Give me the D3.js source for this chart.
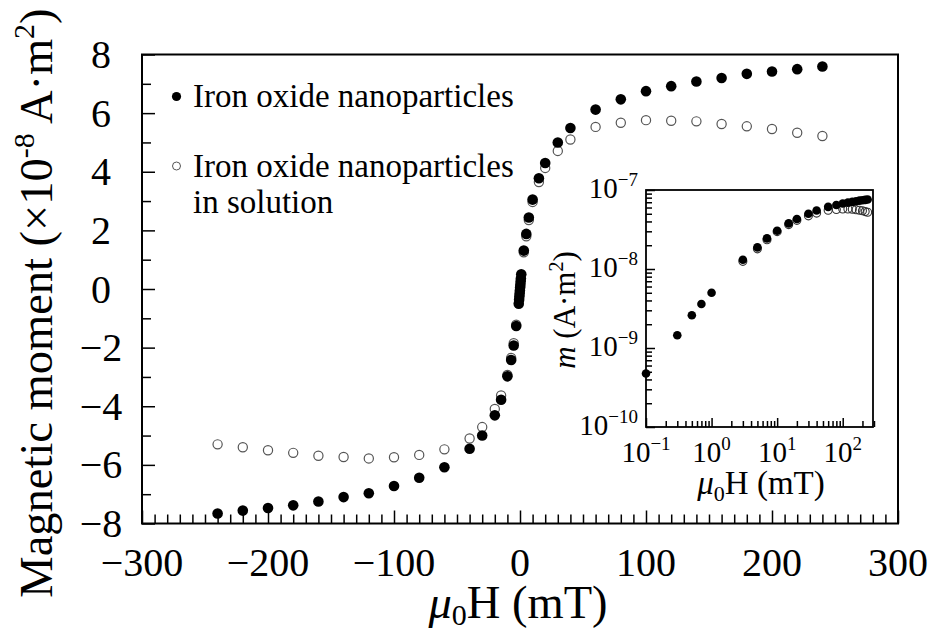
<!DOCTYPE html>
<html><head><meta charset="utf-8">
<script src="https://cdn.jsdelivr.net/npm/d3@7"></script>
<style>
body{margin:0;background:#fff}
svg{display:block}
text{font-family:"Liberation Serif","Times New Roman",serif;fill:#000}
</style>
</head><body>
<svg id="c" width="932" height="629"></svg>
<script>
// ---- data (magnetic moment in units of 1e-8 A·m², field in mT) ----
const fieldPos = [0.1,0.3,0.5,0.7,1,3,5,7,10,15,20,30,40,60,80,100,120,140,160,180,200,220,240];
const dryPos = [0.0475,0.145,0.26,0.36,0.50,1.31,1.88,2.44,3.05,3.78,4.30,5.00,5.49,6.12,6.47,6.75,6.92,7.08,7.20,7.34,7.42,7.50,7.59];
const dryNeg = [-0.05,-0.15,-0.26,-0.37,-0.50,-1.26,-1.93,-2.42,-2.98,-3.78,-4.31,-5.00,-5.45,-6.08,-6.44,-6.72,-6.97,-7.10,-7.25,-7.38,-7.47,-7.56,-7.66];
const fieldSol = [3,5,7,10,15,20,30,40,60,80,100,120,140,160,180,200,220,240];
const solPos = [1.25,1.80,2.35,2.97,3.65,4.13,4.71,5.10,5.53,5.67,5.76,5.74,5.72,5.63,5.55,5.46,5.33,5.22];
const solNeg = [-1.22,-1.85,-2.35,-2.93,-3.63,-4.09,-4.71,-5.10,-5.47,-5.66,-5.74,-5.78,-5.73,-5.69,-5.59,-5.50,-5.40,-5.30];
const xTicks = [-300,-200,-100,0,100,200,300];
const yTicks = [-8,-6,-4,-2,0,2,4,6,8];
const insetXExp = [-1,0,1,2];
const insetYExp = [-10,-9,-8,-7];
const seriesNames = ["Iron oxide nanoparticles","Iron oxide nanoparticles","in solution"];

const svg = d3.select("#c");
const minus = s => String(s).replace("-", "\u2212");

// ---- main plot ----
const x = d3.scaleLinear([-300,300],[142,898]);
const y = d3.scaleLinear([-8,8],[523.5,54.5]);

const dry = fieldPos.map((f,i)=>[f,dryPos[i]]).concat(fieldPos.map((f,i)=>[-f,dryNeg[i]]));
const sol = fieldSol.map((f,i)=>[f,solPos[i]]).concat(fieldSol.map((f,i)=>[-f,solNeg[i]]));

const styleTicks = g => { g.select(".domain").remove(); g.selectAll("line").attr("stroke","#000").attr("stroke-width",1.5); g.selectAll("text").remove(); };

const xMinor = d3.range(-290,300,10).filter(v=>v%100!==0);
svg.append("g").attr("transform","translate(0,523.5)")
  .call(d3.axisBottom(x).tickValues(xMinor).tickSize(-9).tickFormat("")).call(styleTicks);
svg.append("g").attr("transform","translate(0,523.5)")
  .call(d3.axisBottom(x).tickValues(xTicks).tickSize(-13).tickFormat("")).call(styleTicks);
const yMinor = d3.range(-7,8,2);
svg.append("g").attr("transform","translate(142,0)")
  .call(d3.axisLeft(y).tickValues(yMinor).tickSize(-9).tickFormat("")).call(styleTicks);
svg.append("g").attr("transform","translate(142,0)")
  .call(d3.axisLeft(y).tickValues(yTicks).tickSize(-13).tickFormat("")).call(styleTicks);

svg.append("rect").attr("x",142).attr("y",54.5).attr("width",756).attr("height",469)
  .attr("fill","none").attr("stroke","#000").attr("stroke-width",2);

const fmt = d3.format("");
svg.append("g").selectAll("text").data(xTicks).join("text")
  .attr("x",d=>x(d)).attr("y",576).attr("text-anchor","middle").attr("font-size",40).text(d=>fmt(d));
svg.append("g").selectAll("text").data(yTicks).join("text")
  .attr("x",101).attr("y",d=>y(d)+13.5).attr("text-anchor","middle").attr("font-size",40).text(d=>fmt(d));

// axis titles
const yt = svg.append("text").attr("transform","translate(52,303) rotate(-90)")
  .attr("text-anchor","middle").attr("font-size",46.5);
yt.append("tspan").text("Magnetic moment (\u00d710");
yt.append("tspan").attr("font-size",30).attr("dy",-18).text("-8");
yt.append("tspan").attr("dy",18).text(" A\u00b7m");
yt.append("tspan").attr("font-size",30).attr("dy",-18).text("2");
yt.append("tspan").attr("dy",18).text(")");

const xt = svg.append("text").attr("x",518).attr("y",618).attr("text-anchor","middle").attr("font-size",46.5);
xt.append("tspan").attr("font-style","italic").text("\u03bc");
xt.append("tspan").attr("font-size",30).attr("dy",7).text("0");
xt.append("tspan").attr("dy",-7).text("H (mT)");

// data markers
svg.append("g").selectAll("circle").data(sol).join("circle")
  .attr("cx",d=>x(d[0])).attr("cy",d=>y(d[1])).attr("r",4.6)
  .attr("fill","none").attr("stroke","#555").attr("stroke-width",1.2);
svg.append("g").selectAll("circle").data(dry).join("circle")
  .attr("cx",d=>x(d[0])).attr("cy",d=>y(d[1])).attr("r",5.3).attr("fill","#000");

// legend
svg.append("circle").attr("cx",176.5).attr("cy",96.5).attr("r",4.6).attr("fill","#000");
svg.append("circle").attr("cx",176.5).attr("cy",166).attr("r",4).attr("fill","none").attr("stroke","#555").attr("stroke-width",1);
svg.append("text").attr("x",193).attr("y",107.3).attr("font-size",33).text(seriesNames[0]);
svg.append("text").attr("x",193).attr("y",176.7).attr("font-size",33).text(seriesNames[1]);
svg.append("text").attr("x",193).attr("y",213.3).attr("font-size",33).text(seriesNames[2]);

// ---- inset ----
const xi = d3.scaleLog([0.1,300],[646,874]);
const yi = d3.scaleLog([1e-10,1e-7],[427,190]);

svg.append("rect").attr("x",646).attr("y",190).attr("width",227).attr("height",237)
  .attr("fill","#fff").attr("stroke","none");

const minorLog = (lo,hi,max)=>{const a=[];for(let e=lo;e<=hi;e++){for(let k=2;k<=9;k++){const v=k*Math.pow(10,e);if(v<=max)a.push(v);}}return a;};
svg.append("g").attr("transform","translate(0,427)")
  .call(d3.axisBottom(xi).tickValues(minorLog(-1,2,300)).tickSize(-6).tickFormat("")).call(styleTicks);
svg.append("g").attr("transform","translate(0,427)")
  .call(d3.axisBottom(xi).tickValues(insetXExp.map(e=>Math.pow(10,e))).tickSize(-9).tickFormat("")).call(styleTicks);
svg.append("g").attr("transform","translate(646,0)")
  .call(d3.axisLeft(yi).tickValues(minorLog(-10,-8,1e-7)).tickSize(-6).tickFormat("")).call(styleTicks);
svg.append("g").attr("transform","translate(646,0)")
  .call(d3.axisLeft(yi).tickValues(insetYExp.map(e=>Math.pow(10,e))).tickSize(-9).tickFormat("")).call(styleTicks);
svg.selectAll("g line").attr("stroke-width",1.5);

svg.append("rect").attr("x",646).attr("y",190).attr("width",227).attr("height",237)
  .attr("fill","none").attr("stroke","#000").attr("stroke-width",1.8);

insetXExp.forEach(e=>{
  const t = svg.append("text").attr("x",xi(Math.pow(10,e))).attr("y",462).attr("text-anchor","middle").attr("font-size",29);
  t.append("tspan").text("10");
  t.append("tspan").attr("font-size",19).attr("dy",-12).text(minus(e));
});
insetYExp.forEach(e=>{
  const t = svg.append("text").attr("x",638).attr("y",yi(Math.pow(10,e))+8).attr("text-anchor","end").attr("font-size",29);
  t.append("tspan").text("10");
  t.append("tspan").attr("font-size",19).attr("dy",-12).text(minus(e));
});

const xit = svg.append("text").attr("x",761).attr("y",494).attr("text-anchor","middle").attr("font-size",33);
xit.append("tspan").attr("font-style","italic").text("\u03bc");
xit.append("tspan").attr("font-size",22).attr("dy",7).text("0");
xit.append("tspan").attr("dy",-7).text("H (mT)");

const yit = svg.append("text").attr("transform","translate(575,310) rotate(-90)").attr("text-anchor","middle").attr("font-size",31);
yit.append("tspan").attr("font-style","italic").text("m");
yit.append("tspan").text(" (A\u00b7m");
yit.append("tspan").attr("font-size",20).attr("dy",-12).text("2");
yit.append("tspan").attr("dy",12).text(")");

const insetSol = fieldSol.map((f,i)=>[f,solPos[i]*1e-8]);
const insetDry = fieldPos.map((f,i)=>[f,dryPos[i]*1e-8]);
svg.append("g").selectAll("circle").data(insetSol).join("circle")
  .attr("cx",d=>xi(d[0])).attr("cy",d=>yi(d[1])).attr("r",4)
  .attr("fill","none").attr("stroke","#333").attr("stroke-width",1.1);
svg.append("g").selectAll("circle").data(insetDry).join("circle")
  .attr("cx",d=>xi(d[0])).attr("cy",d=>yi(d[1])).attr("r",4.3).attr("fill","#000");
</script>
</body></html>
